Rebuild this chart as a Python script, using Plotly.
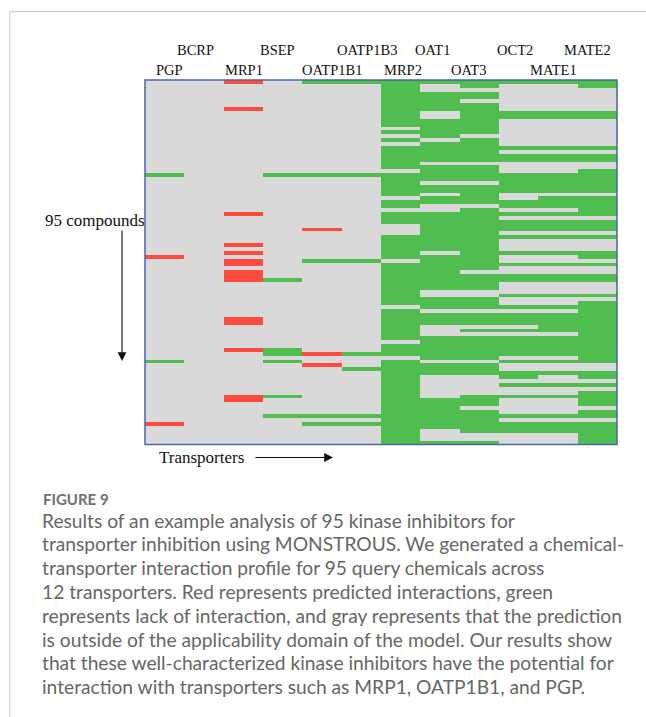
import plotly.graph_objects as go

W, H = 646, 717

# ---------------- data ----------------
transporters = ["PGP", "BCRP", "MRP1", "BSEP", "OATP1B1", "OATP1B3",
                "MRP2", "OAT1", "OAT3", "OCT2", "MATE1", "MATE2"]
# label row: 0 = lower row, 1 = upper row
label_row = [0, 1, 0, 1, 0, 1, 0, 1, 0, 1, 0, 1]

# 95 compounds (top to bottom) x 12 transporters
# '.' = outside applicability domain (gray), 'G' = no interaction (green), 'R' = predicted interaction (red)
profile_rows = [
    "..R.GGGGGGGG", "......G.G..G", "......G.....", "......GGG...", "......GGG...",
    "......GG....", "......GGG...", "..R...GGG...", "......G.GGGG", "......G.GGGG",
    "......GGG...", "......GGG...", ".......GG...", "......GGG...", ".......G....",
    "......G.G...", ".......GG...", "......GGGGGG", "......GGG...", "......GGGGGG",
    "......GGGGGG", "......G.....", "......GGG...", ".......GG..G", "G..GGGGGGGGG",
    "......GGGGGG", "......G..GGG", "......GGGGGG", "......GGGGGG", "......G.G...",
    ".......GG.GG", "......GGGGGG", "......G..GGG", "........G..G", "..R...GGGGGG",
    "......GGG...", "......GGGGGG", ".......GGGGG", "....R..GGGGG", ".......GG...",
    "......GGGGGG", "......GGG...", "..R...GGG...", "......GGG...", "..R...G.GGGG",
    "R.....GGG..G", "..R.GG.GG...", "..R...GGGGGG", "......GGG...", "..R...GG....",
    "..R...GGGGGG", "..RG..GGGGGG", "......GGG...", "......GGG...", "......G.....",
    "......G..GGG", "......GGG...", "......GGG..G", ".......GGGGG", "......G....G",
    "......GGGGGG", "..R...GGGGGG", "..R...GGGGGG", "......G...GG", "......G.GGGG",
    "......G....G", "......GGGGGG", ".......GGGGG", "......GGGGGG", "..RG..GGGGGG",
    "...GRGGGGGGG", ".......GG..G", "G..G..G..GGG", "....R.GGG...", ".....GGGG...",
    "......GGGGGG", "......G..G.G", "......G.....", "......G..GGG", "......G.....",
    "......G....G", "..RG..G.GGGG", "..R...GGG..G", "......GGG..G", "......GG....",
    "......GGG..G", "...GGGGGGGGG", "......GGG...", "R...GGGGGGGG", "......GGGGGG",
    "......G.GGGG", "......G....G", "......G....G", "......GGG..G",
]
status_code = {".": 0, "G": 1, "R": 2}

caption_title = "FIGURE 9"
caption_lines = [
    "Results of an example analysis of 95 kinase inhibitors for",
    "transporter inhibition using MONSTROUS. We generated a chemical-",
    "transporter interaction profile for 95 query chemicals across",
    "12 transporters. Red represents predicted interactions, green",
    "represents lack of interaction, and gray represents that the prediction",
    "is outside of the applicability domain of the model. Our results show",
    "that these well-characterized kinase inhibitors have the potential for",
    "interaction with transporters such as MRP1, OATP1B1, and PGP.",
]

# ---------------- styling ----------------
GRAY, GREEN, RED = "#D9D9D9", "#4FBE4F", "#FF4B3E"
SERIF = "Liberation Serif, Times New Roman, serif"
SANS = "Lato, Open Sans, sans-serif"

def px_x(p):
    return p / W

def px_y(p):
    return 1 - p / H

z = [[status_code[c] for c in row] for row in profile_rows]
n_rows = len(profile_rows)

fig = go.Figure(go.Heatmap(
    z=z,
    x=list(range(len(transporters))),
    y=list(range(n_rows)),
    zmin=0, zmax=2,
    colorscale=[[0, GRAY], [1 / 3, GRAY], [1 / 3, GREEN], [2 / 3, GREEN],
                [2 / 3, RED], [1, RED]],
    showscale=False,
    hoverinfo="skip",
))

fig.update_layout(
    width=W, height=H,
    margin=dict(l=0, r=0, t=0, b=0),
    paper_bgcolor="white", plot_bgcolor="white",
    xaxis=dict(domain=[px_x(145), px_x(617)], range=[-0.5, len(transporters) - 0.5],
               showticklabels=False, showgrid=False, zeroline=False, ticks=""),
    yaxis=dict(domain=[px_y(444.5), px_y(80)], range=[n_rows - 0.5, -0.5],
               showticklabels=False, showgrid=False, zeroline=False, ticks=""),
    showlegend=False,
)

shapes = [
    # heatmap frame
    dict(type="rect", xref="x domain", yref="y domain", x0=0, x1=1, y0=0, y1=1,
         line=dict(color="#4A66A8", width=1.5), fillcolor="rgba(0,0,0,0)"),
    # page frame (left and top rules)
    dict(type="line", xref="paper", yref="paper", x0=px_x(9.7), x1=px_x(9.7),
         y0=px_y(11.7), y1=px_y(760), line=dict(color="#D2D2D2", width=1.3)),
    dict(type="line", xref="paper", yref="paper", x0=px_x(9.7), x1=px_x(700),
         y0=px_y(11.7), y1=px_y(11.7), line=dict(color="#D2D2D2", width=1.3)),
]
fig.update_layout(shapes=shapes)

annotations = []
label_shift = [5, -9, 1, -5, 10, 6, 2, -8, -11, -4, -5, -10]
row_y = {1: px_y(50), 0: px_y(69.5)}
for i, name in enumerate(transporters):
    annotations.append(dict(
        x=i, xref="x", y=row_y[label_row[i]], yref="paper", xshift=label_shift[i],
        text=name, showarrow=False, xanchor="center", yanchor="middle",
        font=dict(family=SERIF, size=14.5, color="#111111")))

annotations.append(dict(
    x=px_x(146.5), y=px_y(221), xref="paper", yref="paper", text="95 compounds",
    showarrow=False, xanchor="right", yanchor="middle",
    font=dict(family=SERIF, size=17, color="#111111")))
annotations.append(dict(
    x=px_x(157), y=px_y(457), xref="paper", yref="paper", text="Transporters",
    showarrow=False, xanchor="left", yanchor="middle",
    font=dict(family=SERIF, size=17, color="#111111")))
# arrows
annotations.append(dict(
    x=px_x(122), y=px_y(361), xref="paper", yref="paper", text="",
    showarrow=True, ax=0, ay=-132, axref="pixel", ayref="pixel",
    arrowhead=2, arrowsize=1.6, arrowwidth=1.1, arrowcolor="#111111", standoff=0))
annotations.append(dict(
    x=px_x(333), y=px_y(457.5), xref="paper", yref="paper", text="",
    showarrow=True, ax=-79, ay=0, axref="pixel", ayref="pixel",
    arrowhead=2, arrowsize=1.6, arrowwidth=1.1, arrowcolor="#111111", standoff=0))

annotations.append(dict(
    x=px_x(41), y=px_y(499), xref="paper", yref="paper", text=caption_title,
    showarrow=False, xanchor="left", yanchor="middle",
    font=dict(family=SANS, size=15, color="#707070", weight=700)))
for k, line in enumerate(caption_lines):
    annotations.append(dict(
        x=px_x(40), y=px_y(520 + 23.8 * k), xref="paper", yref="paper", text=line,
        showarrow=False, xanchor="left", yanchor="middle",
        font=dict(family=SANS, size=19.2, color="#666666")))

fig.update_layout(annotations=annotations)
fig.write_html("out.html")
